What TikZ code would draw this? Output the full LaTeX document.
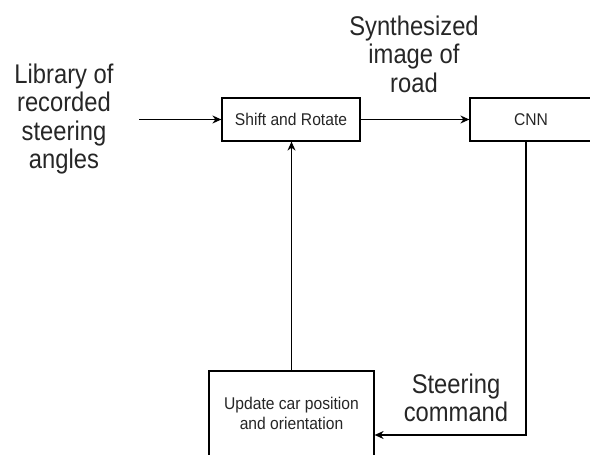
\documentclass[tikz,border=0pt]{standalone}
\usepackage{fontspec}
\setmainfont{Liberation Sans}
\newfontfamily\bigcond[FakeStretch=0.88]{Liberation Sans}
\newfontfamily\smallcond[FakeStretch=0.92]{Liberation Sans}
\usetikzlibrary{arrows.meta}
\definecolor{txt}{HTML}{262626}
\begin{document}
\begin{tikzpicture}[x=1pt,y=-1pt,
  block/.style={draw=black,line width=1.2pt,fill=white,inner sep=0pt,font=\smallcond\fontsize{17}{20}\selectfont,text=txt,align=center},
  biglabel/.style={font=\bigcond\fontsize{27}{28.5}\selectfont,text=txt,align=center,inner sep=0pt},
  conn/.style={draw=black,line width=1.2pt,-{Stealth[length=9pt,width=8pt]}}]
\useasboundingbox (0,0) rectangle (590,455);
\node[block,minimum width=138pt,minimum height=43pt] (shift) at (291,119.5) {Shift and Rotate};
\node[block,minimum width=122pt,minimum height=43pt] (cnn) at (531,119.5) {CNN};
\node[block,minimum width=165pt,minimum height=88pt] (update) at (291.5,415) {};
\node[font=\smallcond\fontsize{17}{20}\selectfont,text=txt,align=center,inner sep=0pt] (updtext) at (291.5,413) {Update car position\\and orientation};
\node[biglabel] (lib) at (64,119) {Library of\\recorded\\steering\\angles};
\node[biglabel] (syn) at (414,54) {Synthesized\\image of\\road};
\node[biglabel] (steer) at (456,398) {Steering\\command};
\coordinate (in) at (139,119.5);
\coordinate (corner) at (526,435);
\draw[conn] (in) -- (shift.west);
\draw[conn] (shift.east) -- (cnn.west);
\draw[conn] (update.north) -- (update.north |- shift.south);
\draw[conn] (cnn.south -| corner) -- (corner) -- (update.east |- corner);
\end{tikzpicture}
\end{document}
